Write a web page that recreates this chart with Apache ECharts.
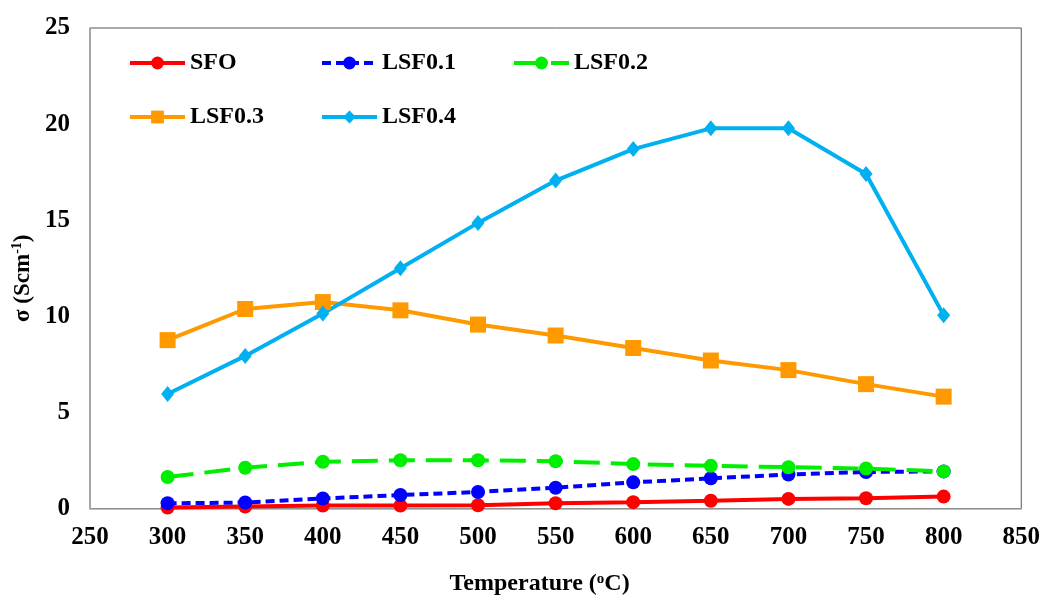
<!DOCTYPE html>
<html><head><meta charset="utf-8">
<script src="https://cdn.jsdelivr.net/npm/echarts@6/dist/echarts.min.js"></script>
<style>html,body{margin:0;padding:0;background:#fff;overflow:hidden}#c{width:1043px;height:601px}</style>
</head><body><div id="c"></div>
<script>
const temperatures = [300, 350, 400, 450, 500, 550, 600, 650, 700, 750, 800];
const sfo    = [0.05, 0.1, 0.15, 0.15, 0.17, 0.27, 0.33, 0.4, 0.5, 0.53, 0.62];
const lsf01  = [0.27, 0.31, 0.52, 0.7, 0.86, 1.08, 1.36, 1.57, 1.77, 1.9, 1.93];
const lsf02  = [1.64, 2.12, 2.43, 2.51, 2.51, 2.46, 2.31, 2.22, 2.15, 2.08, 1.93];
const lsf03  = [8.76, 10.38, 10.74, 10.31, 9.57, 9.0, 8.35, 7.7, 7.2, 6.47, 5.82];
const lsf04  = [5.96, 7.94, 10.14, 12.5, 14.86, 17.06, 18.7, 19.78, 19.78, 17.4, 10.06];
const seriesNames = ['SFO', 'LSF0.1', 'LSF0.2', 'LSF0.3', 'LSF0.4'];

const FONT = '"Liberation Serif", "DejaVu Serif", serif';
const pair = arr => temperatures.map((t, i) => [t, arr[i]]);

const chart = echarts.init(document.getElementById('c'), null, {renderer: 'canvas'});

function mkSeries(name, data, color, symbol, size, dash) {
  return {
    name, type: 'line', data: pair(data),
    symbol, symbolSize: size,
    lineStyle: {color, width: 4, type: dash || 'solid'},
    itemStyle: {color},
    emphasis: {disabled: true},
    animation: false
  };
}

function mkLegend(name, left, top) {
  return {
    data: [name], left, top, orient: 'horizontal', padding: 0,
    itemWidth: 55, itemHeight: 16, itemGap: 0,
    lineStyle: {width: 4},
    textStyle: {fontFamily: FONT, fontWeight: 'bold', fontSize: 24, color: '#000', padding: [0,0,0,0]},
    selectedMode: false
  };
}

chart.setOption({
  backgroundColor: '#fff',
  grid: {left: 90, right: 21, top: 28, height: 484, show: true, borderColor: '#555', borderWidth: 1},
  legend: [
    mkLegend('SFO', 128, 51),
    mkLegend('LSF0.1', 320, 51),
    mkLegend('LSF0.2', 512, 51),
    mkLegend('LSF0.3', 128, 105),
    mkLegend('LSF0.4', 320, 105)
  ],
  xAxis: {
    type: 'value', min: 250, max: 850, interval: 50,
    name: '{b|Temperature (}{s|o}{b|C)}',
    nameLocation: 'middle', nameGap: 63,
    nameTextStyle: {
      padding: [0, 32, 0, 0],
      rich: {
        b: {fontFamily: FONT, fontWeight: 'bold', fontSize: 24, color: '#000'},
        s: {fontFamily: FONT, fontWeight: 'bold', fontSize: 15, color: '#000', verticalAlign: 'top', padding: [0,0,10,0]}
      }
    },
    axisLine: {lineStyle: {color: '#a6a6a6', width: 1.5}},
    axisTick: {show: false},
    splitLine: {show: false},
    axisLabel: {fontFamily: FONT, fontWeight: 'bold', fontSize: 25, color: '#000', margin: 17}
  },
  yAxis: {
    type: 'value', min: 0, max: 25, interval: 5,
    name: '{b|σ (Scm}{s|-1}{b|)}',
    nameLocation: 'middle', nameGap: 53, nameRotate: 90,
    nameTextStyle: {
      padding: [0, 20, 0, 0],
      rich: {
        b: {fontFamily: FONT, fontWeight: 'bold', fontSize: 23, color: '#000'},
        s: {fontFamily: FONT, fontWeight: 'bold', fontSize: 14, color: '#000', verticalAlign: 'top', padding: [0,0,10,0]}
      }
    },
    axisLine: {show: true, lineStyle: {color: '#a6a6a6', width: 1.5}},
    axisTick: {show: false},
    splitLine: {show: false},
    axisLabel: {fontFamily: FONT, fontWeight: 'bold', fontSize: 25, color: '#000', margin: 20}
  },
  series: [
    mkSeries(seriesNames[0], sfo,   '#ff0000', 'circle', 14),
    mkSeries(seriesNames[1], lsf01, '#0000ff', 'circle', 14, [9, 5]),
    mkSeries(seriesNames[2], lsf02, '#00ee00', 'circle', 14, [26, 11]),
    mkSeries(seriesNames[3], lsf03, '#ff9900', 'rect', 16),
    mkSeries(seriesNames[4], lsf04, '#00b0f0', 'diamond', [13, 16])
  ]
});
</script></body></html>
